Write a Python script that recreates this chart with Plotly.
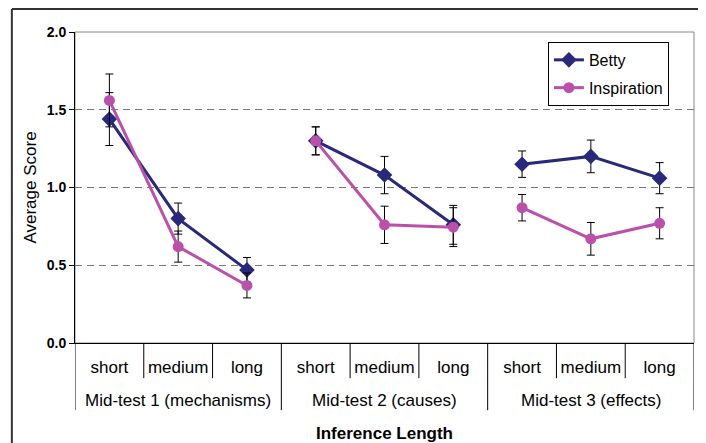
import plotly.graph_objects as go

groups = ["Mid-test 1 (mechanisms)", "Mid-test 2 (causes)", "Mid-test 3 (effects)"]
lengths = ["short", "medium", "long"]

betty = [1.44, 0.80, 0.47, 1.30, 1.08, 0.76, 1.15, 1.20, 1.06]
betty_err = [0.17, 0.10, 0.08, 0.09, 0.12, 0.125, 0.085, 0.105, 0.10]
insp = [1.56, 0.62, 0.37, 1.30, 0.76, 0.745, 0.87, 0.67, 0.77]
insp_err = [0.17, 0.10, 0.08, 0.09, 0.12, 0.125, 0.085, 0.105, 0.10]

y_ticks = [0.0, 0.5, 1.0, 1.5, 2.0]

BETTY_C = "#29287A"
INSP_C = "#BA50A9"
FONT = "Arial, Liberation Sans, sans-serif"
FS = 17

n = len(lengths)
xs = list(range(len(groups) * n))
fig = go.Figure()

series = [("Betty", betty, betty_err, BETTY_C, "diamond", 12),
          ("Inspiration", insp, insp_err, INSP_C, "circle", 11)]
for name, vals, errs, col, sym, msize in series:
    for g in range(len(groups)):
        sl = slice(g * n, (g + 1) * n)
        fig.add_trace(go.Scatter(
            x=xs[sl], y=vals[sl], name=name, legendgroup=name,
            showlegend=(g == 0), mode="lines+markers",
            line=dict(color=col, width=3),
            marker=dict(symbol=sym, size=msize, color=col),
            error_y=dict(type="data", array=errs[sl], visible=True,
                         color="black", thickness=1, width=4),
        ))

shapes = []
# plot-area frame (gray top/right)
shapes.append(dict(type="rect", xref="paper", yref="paper", x0=0, x1=1, y0=0, y1=1,
                   line=dict(color="#888888", width=1), layer="below"))
# category separators
for g in range(len(groups)):
    for k in range(1, n):
        xb = g * n + k - 0.5
        shapes.append(dict(type="line", xref="x", yref="paper", x0=xb, x1=xb,
                           y0=0, y1=-0.113, line=dict(color="black", width=1)))
for g in range(len(groups) + 1):
    xb = g * n - 0.5
    shapes.append(dict(type="line", xref="x", yref="paper", x0=xb, x1=xb,
                       y0=0, y1=-0.216, line=dict(color="black", width=1)))
# outer chart frame
shapes.append(dict(type="line", xref="paper", yref="paper", x0=-0.102, x1=1.1,
                   y0=1.074, y1=1.074, line=dict(color="#333333", width=2)))
shapes.append(dict(type="line", xref="paper", yref="paper", x0=-0.102, x1=-0.102,
                   y0=1.074, y1=-0.4, line=dict(color="#333333", width=2)))

annotations = []
for g, gname in enumerate(groups):
    annotations.append(dict(text=gname, xref="x", yref="paper", x=g * n + (n - 1) / 2,
                            y=-0.184, showarrow=False, yanchor="middle",
                            font=dict(family=FONT, size=FS, color="black")))

# page body has an 8px margin, so the figure is offset by 8px
fig.update_layout(
    width=698, height=435,
    margin=dict(l=67, r=12, t=24, b=100, autoexpand=False),
    paper_bgcolor="white", plot_bgcolor="white",
    showlegend=True,
    legend=dict(x=0.764, y=0.968, xanchor="left", yanchor="top",
                bordercolor="black", borderwidth=1, bgcolor="white",
                font=dict(family=FONT, size=16, color="black"),
                tracegroupgap=4, itemwidth=30),
    shapes=shapes, annotations=annotations,
    xaxis=dict(range=[-0.5, len(xs) - 0.5], tickvals=xs, ticktext=lengths * len(groups),
               showgrid=False, zeroline=False, showline=True, linecolor="black",
               linewidth=1, ticks="", ticklabelstandoff=9, automargin=False,
               tickfont=dict(family=FONT, size=FS, color="black"),
               title=dict(text="<b>Inference Length</b>", standoff=53,
                          font=dict(family=FONT, size=FS, color="black"))),
    yaxis=dict(range=[0, 2], tickvals=y_ticks,
               ticktext=[f"<b>{v:.1f}</b>" for v in y_ticks],
               showgrid=True, gridcolor="#777777", griddash="7px,5px", gridwidth=1,
               zeroline=False, showline=True, linecolor="black", linewidth=1,
               ticks="outside", ticklen=5, tickcolor="black", automargin=False,
               tickfont=dict(family=FONT, size=14, color="black"),
               title=dict(text="Average Score", standoff=5,
                          font=dict(family=FONT, size=FS, color="black"))),
)

fig.write_html("out.html")
